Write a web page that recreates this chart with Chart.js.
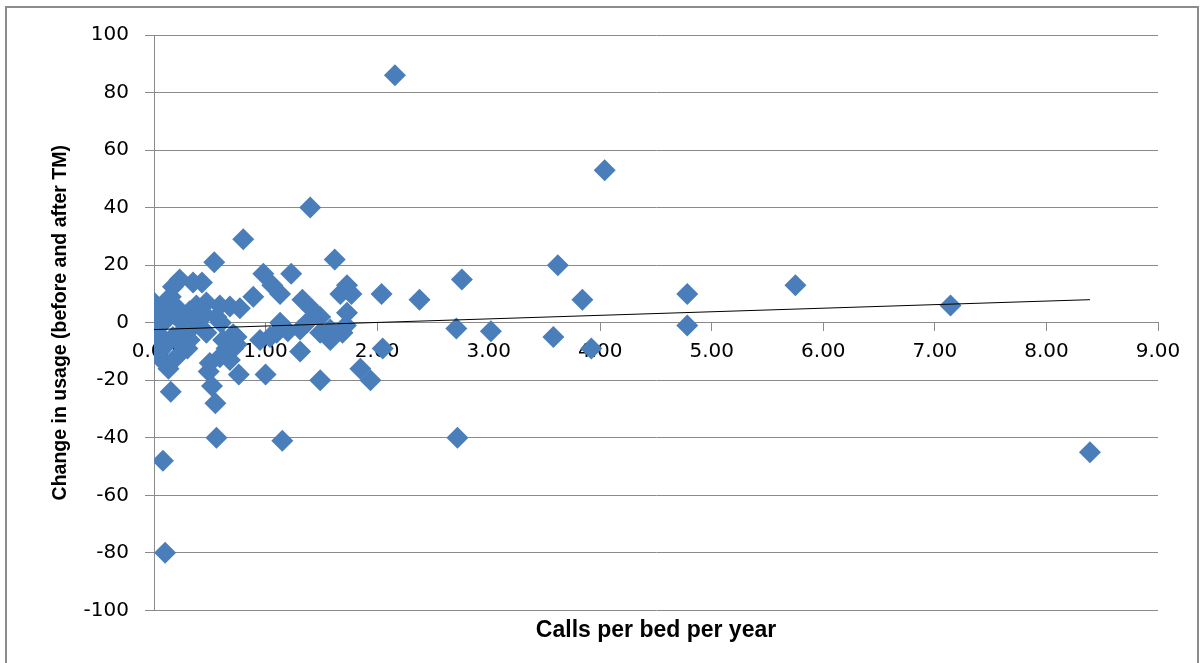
<!DOCTYPE html>
<html>
<head>
<meta charset="utf-8">
<script src="https://cdn.jsdelivr.net/npm/chart.js@4.4.1/dist/chart.umd.min.js"></script>
<style>
  html, body { margin: 0; padding: 0; background: #fff; overflow: hidden; }
  #wrap { position: relative; width: 1203px; height: 663px; }
  #frame { position: absolute; left: 5px; top: 6px; width: 1190px; height: 700px;
           border: 2px solid #8c8c8c; pointer-events: none; }
</style>
</head>
<body>
<div id="wrap">
  <canvas id="chart" width="1203" height="663"></canvas>
  <div id="frame"></div>
</div>
<script>
// Calls per bed per year (x) vs change in usage before/after TM (y)
const CALLS = [
  2.16, 4.04, 1.40, 0.80, 3.62, 1.62, 0.54, 2.76, 2.38, 2.04,
  3.84, 4.78, 5.75, 7.14, 2.71, 3.02, 3.58, 3.92, 4.78, 2.05,
  8.39, 2.72, 1.15, 0.56, 0.08, 0.10, 0.15, 0.55, 0.52, 1.00,
  0.76, 1.49, 1.94, 1.85, 0.49, 0.13, 0.98, 1.23, 1.06, 1.13,
  0.89, 1.33, 1.73, 1.67, 1.77, 0.77, 1.42, 1.73, 1.13, 1.37,
  1.49, 1.31, 1.04, 1.49, 1.58, 1.69, 0.74, 0.71, 0.95, 1.31,
  1.20, 0.23, 0.35, 0.43, 0.17, 0.00, 0.08, 0.47, 0.59, 0.68,
  0.21, 0.32, 0.00, 0.11, 0.23, 0.41, 0.56, 0.03, 0.17, 0.32,
  0.47, 0.71, 0.74, 0.65, 1.10, 0.05, 0.26, 0.59, 0.50, 0.07,
  1.58, 0.06, 0.12, 0.18, 0.28, 0.38, 0.10, 0.20, 0.30, 0.62,
  0.66, 0.68, 0.04, 0.02, 0.15, 0.27, 0.36, 0.45, 1.72, 0.60
];
const CHANGE = [
  86, 53, 40, 29, 20, 22, 21, 15, 8, 10,
  8, 10, 13, 6, -2, -3, -5, -9, -1, -9,
  -45, -40, -41, -40, -48, -80, -24, -28, -22, -18,
  -18, -20, -20, -16, -17, -16, 17, 17, 13, 10,
  9, 8, 13, 10, 10, 5, 4.5, 3.5, 0, 0,
  2, -2.4, -5, -3.5, -6, -3.5, -5, -9, -6, -10,
  -3, 15, 14, 14, 12.5, 7, 5.6, 7, 6, 5.6,
  5, 4, 2, 1, 1, 1, 2, -3.5, -5, -6,
  -3.5, -4, -7.6, -9, -3.5, -10, -8, -12, -14, -13,
  -2.4, 4, 8, 3, -2, 6, -8, -12, -9, -6,
  -10, -13, -6, -1, 9, 2, -1, 3, -1, 0
];

// Linear trend line endpoints as drawn
const TREND_X = [0, 8.39];
const TREND_Y = [-2.4, 8.0];

const X_TICKS = [0, 1, 2, 3, 4, 5, 6, 7, 8, 9];
const Y_MIN = -100, Y_MAX = 100, Y_STEP = 20;

const GRID = '#8a8a8a';
const BLUE = '#4a7ebb';
const TICK_FONT = { family: 'DejaVu Sans', size: 20 };

const points = CALLS.map((x, i) => ({ x: x, y: CHANGE[i] }));
const trend = TREND_X.map((x, i) => ({ x: x, y: TREND_Y[i] }));

new Chart(document.getElementById('chart').getContext('2d'), {
  type: 'scatter',
  data: {
    datasets: [
      {
        type: 'line',
        label: 'Linear trend',
        data: trend,
        borderColor: '#000',
        borderWidth: 1,
        pointRadius: 0,
        fill: false,
        order: 0
      },
      {
        label: 'Change in usage',
        data: points,
        pointStyle: 'rectRot',
        pointRadius: 11,
        pointHoverRadius: 11,
        backgroundColor: BLUE,
        borderColor: BLUE,
        borderWidth: 0,
        order: 1
      }
    ]
  },
  options: {
    responsive: false,
    animation: false,
    events: [],
    layout: { padding: { left: 0, right: 45, top: 35, bottom: 0 } },
    plugins: {
      legend: { display: false },
      tooltip: { enabled: false },
      title: {
        display: true,
        position: 'bottom',
        fullSize: false,
        text: 'Calls per bed per year',
        color: '#000',
        font: { family: 'Liberation Sans', size: 23, weight: 'bold' },
        padding: { top: 6, bottom: 19 }
      }
    },
    scales: {
      x: {
        type: 'linear',
        position: { y: 0 },
        min: 0,
        max: 9,
        afterFit: (s) => { s.height = 0; },
        afterBuildTicks: (s) => { s.ticks = X_TICKS.map(v => ({ value: v })); },
        ticks: {
          color: '#000',
          font: TICK_FONT,
          padding: 9,
          maxRotation: 0,
          autoSkip: false,
          callback: (v) => Number(v).toFixed(2)
        },
        grid: { drawOnChartArea: false, drawTicks: true, tickLength: 8, color: GRID },
        border: { display: true, color: GRID, width: 1 }
      },
      y: {
        type: 'linear',
        position: 'left',
        min: Y_MIN,
        max: Y_MAX,
        afterFit: (s) => { s.width = 154; },
        ticks: {
          stepSize: Y_STEP,
          color: '#000',
          font: TICK_FONT,
          padding: 16
        },
        grid: { color: GRID, lineWidth: 1, drawTicks: true, tickLength: 9 },
        border: { display: true, color: GRID, width: 1 },
        title: {
          display: true,
          text: 'Change in usage (before and after TM)',
          color: '#000',
          font: { family: 'Liberation Sans', size: 19.5, weight: 'bold' },
          padding: { top: 49, bottom: 0 }
        }
      }
    }
  }
});
</script>
</body>
</html>
